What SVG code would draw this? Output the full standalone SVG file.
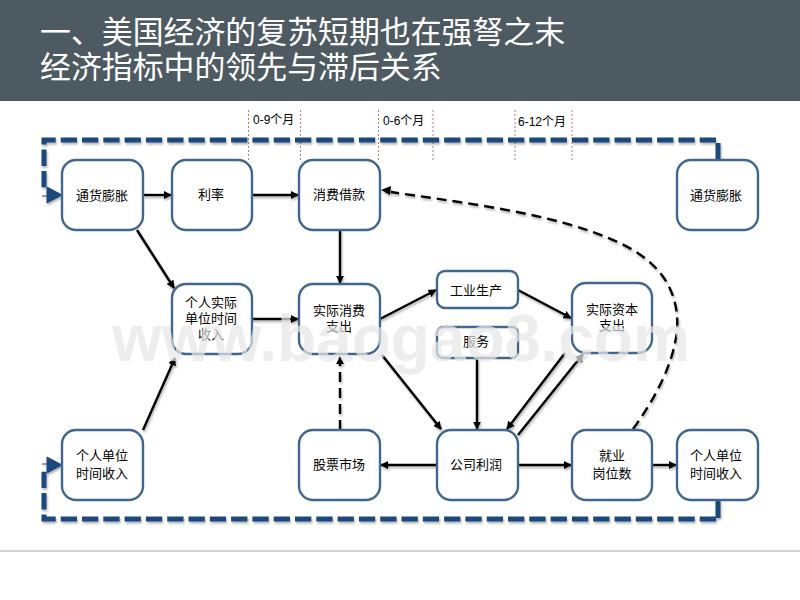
<svg xmlns="http://www.w3.org/2000/svg" width="800" height="600" viewBox="0 0 800 600">
<style>
text{font-family:"Liberation Sans","Noto Sans CJK SC",sans-serif;fill:#000}
.n rect{fill:#fff;stroke:#41678f;stroke-width:2.4}
.n text{font-size:13px;text-anchor:middle}
.a{fill:none;stroke:#000;stroke-width:2.4;marker-end:url(#ah)}
.d{fill:none;stroke:#000;stroke-width:2.4;stroke-dasharray:10 6}
.t{fill:none;stroke:#1f497d;stroke-width:5;stroke-dasharray:16.3 5}
.s{fill:none;stroke:#1f497d;stroke-width:5}
.g{stroke:#b08080;stroke-width:1;stroke-dasharray:2 2}
.m{font-size:12px}
.h{font-size:30.9px;fill:#fff}
.w{font-size:66px;font-weight:bold;fill:#e6e6e6;fill-opacity:.72}
</style>
<defs>
<marker id="ah" viewBox="0 0 10 10" refX="9" refY="5" markerWidth="3.4" markerHeight="3.4" orient="auto"><path d="M0 0L10 5L0 10z" fill="#000"/></marker>
<filter id="sh" x="-5%" y="-5%" width="110%" height="110%"><feDropShadow dx="1" dy="2" stdDeviation="1" flood-opacity=".3"/></filter>
</defs>
<rect id="header" width="800" height="101" fill="#4e5a61"/>
<text class="h" x="40" y="43">一、美国经济的复苏短期也在强弩之末</text>
<text class="h" x="40" y="78">经济指标中的领先与滞后关系</text>
<line x1="0" y1="551" x2="800" y2="551" stroke="#c4c4c4" stroke-width="1.5"/>
<g id="timeline">
<line class="g" x1="248.500" y1="110" x2="248.500" y2="162"/>
<line class="g" x1="300.500" y1="110" x2="300.500" y2="162"/>
<line class="g" x1="378.500" y1="110" x2="378.500" y2="162"/>
<line class="g" x1="433" y1="110" x2="433" y2="162"/>
<line class="g" x1="515" y1="110" x2="515" y2="162"/>
<line class="g" x1="572" y1="110" x2="572" y2="162"/>
<text class="m" x="253" y="124">0-9个月</text>
<text class="m" x="383" y="125">0-6个月</text>
<text class="m" x="518" y="126">6-12个月</text>
</g>
<g id="connectors" filter="url(#sh)">
<path class="t" d="M716 140H44V188"/>
<path class="s" d="M718 143V160"/>
<path d="M42 196H48M47 187L62 195L47 203z" fill="#1f497d" stroke="#1f497d" stroke-width="1"/>
<path class="t" d="M716 519H44V471"/>
<path class="s" d="M718 500V518"/>
<path d="M42 464H48M47 457L62 465L47 473z" fill="#1f497d" stroke="#1f497d" stroke-width="1"/>
<path class="a" d="M143 195H171"/>
<path class="a" d="M252 195H298"/>
<path class="a" d="M340 230V283"/>
<path class="a" d="M137 230L174 288"/>
<path class="a" d="M252 319H298"/>
<path class="a" d="M143 430L175 358"/>
<path class="a" d="M380 319L436 290"/>
<path class="a" d="M518 290L571 318"/>
<path class="a" d="M382 355L441 429"/>
<path class="a" d="M477 358V429"/>
<path class="a" d="M565 353L507 429"/>
<path class="a" d="M518 435L583 354"/>
<path class="a" d="M437 465H381"/>
<path class="a" d="M518 465H571"/>
<path class="a" d="M652 465H676"/>
<path class="d" d="M340 430V364"/>
<path class="a" d="M340 364V357"/>
<path class="d" d="M633 429C660 392 680 350 677 315C672 265 630 245 590 231C530 210 450 201 391 192"/>
<path d="M381 190L391 186L390 195z" fill="#000"/>
</g>
<g id="n1" class="n"><rect x="62" y="160" width="81" height="70" rx="14"/><text x="102" y="200">通货膨胀</text></g>
<g id="n2" class="n"><rect x="172" y="160" width="80" height="70" rx="14"/><text x="211" y="199">利率</text></g>
<g id="n3" class="n"><rect x="299" y="160" width="81" height="70" rx="14"/><text x="339" y="199">消费借款</text></g>
<g id="n4" class="n"><rect x="172" y="284" width="80" height="70" rx="14"/><text x="211" y="307">个人实际<tspan x="211" dy="16">单位时间</tspan><tspan x="211" dy="16">收入</tspan></text></g>
<g id="n5" class="n"><rect x="299" y="284" width="81" height="70" rx="14"/><text x="339" y="315">实际消费<tspan x="339" dy="16">支出</tspan></text></g>
<g id="n6" class="n"><rect x="437" y="271" width="81" height="37" rx="8"/><text x="476" y="295">工业生产</text></g>
<g id="n7" class="n"><rect x="437" y="327" width="81" height="31" rx="6"/><text x="476" y="346">服务</text></g>
<g id="n8" class="n"><rect x="572" y="283" width="80" height="70" rx="14"/><text x="612" y="314">实际资本<tspan x="612" dy="16">支出</tspan></text></g>
<g id="n9" class="n"><rect x="677" y="160" width="81" height="70" rx="14"/><text x="716" y="200">通货膨胀</text></g>
<g id="n10" class="n"><rect x="62" y="430" width="81" height="70" rx="14"/><text x="102" y="460">个人单位<tspan x="102" dy="18">时间收入</tspan></text></g>
<g id="n11" class="n"><rect x="299" y="430" width="81" height="70" rx="14"/><text x="339" y="469">股票市场</text></g>
<g id="n12" class="n"><rect x="437" y="430" width="81" height="70" rx="14"/><text x="476" y="469">公司利润</text></g>
<g id="n13" class="n"><rect x="572" y="430" width="80" height="70" rx="14"/><text x="612" y="460">就业<tspan x="612" dy="18">岗位数</tspan></text></g>
<g id="n14" class="n"><rect x="677" y="430" width="81" height="70" rx="14"/><text x="716" y="460">个人单位<tspan x="716" dy="18">时间收入</tspan></text></g>
<text class="w" x="112" y="361" textLength="578" lengthAdjust="spacingAndGlyphs">www.baogao8.com</text>
</svg>
